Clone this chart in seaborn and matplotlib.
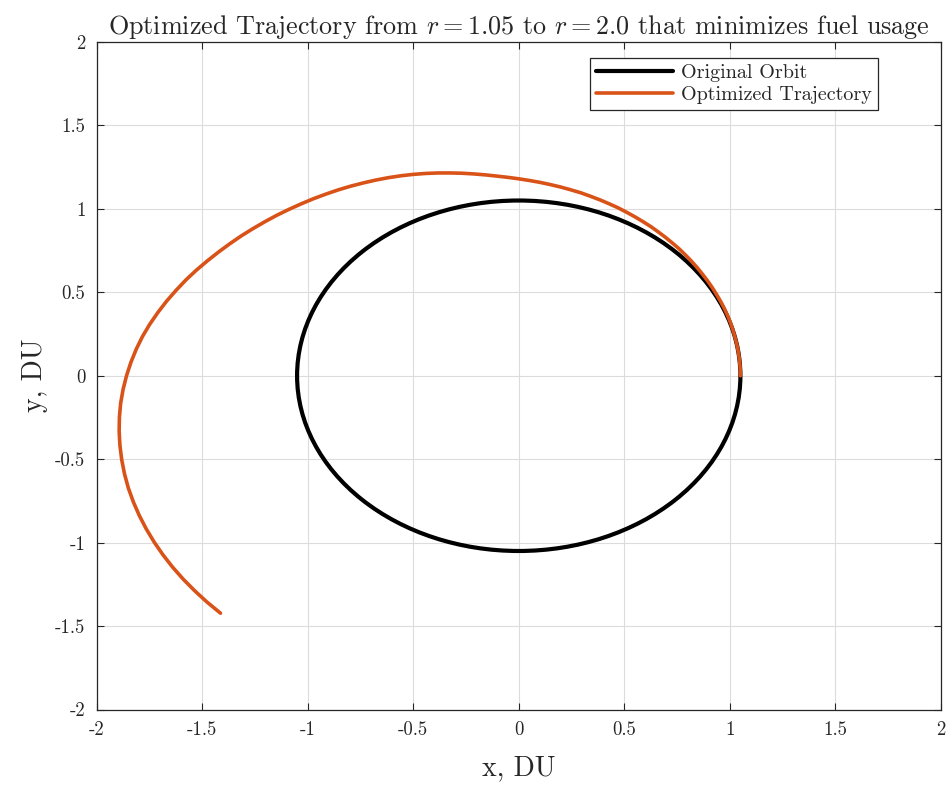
import numpy as np
import pandas as pd
import seaborn as sns
import matplotlib.pyplot as plt
from matplotlib.patches import Circle
from matplotlib.lines import Line2D

# original circular orbit (DU)
orbit_radius = 1.05

traj_angle_deg = [0, 2.5, 5, 7.5, 10, 12.5, 15, 17.5, 20, 22.5, 25, 27.5, 30,
                  32.5, 35, 37.5, 40, 42.5, 45, 47.5, 50, 52.5, 55, 57.5, 60,
                  62.5, 65, 67.5, 70, 72.5, 75, 77.5, 80, 82.5, 85, 87.5, 90,
                  92.5, 95, 97.5, 100, 102.5, 105, 107.5, 110, 112.5, 115,
                  117.5, 120, 122.5, 125, 127.5, 130, 132.5, 135, 137.5, 140,
                  142.5, 145, 147.5, 150, 152.5, 155, 157.5, 160, 162.5, 165,
                  167.5, 170, 172.5, 175, 177.5, 180, 182.5, 185, 187.5, 190,
                  192.5, 195, 197.5, 200, 202.5, 205, 207.5, 210, 212.5, 215,
                  217.5, 220, 222.5, 225.2]
traj_radius = [1.050, 1.050, 1.050, 1.050, 1.050, 1.050, 1.051, 1.052, 1.053,
               1.054, 1.055, 1.056, 1.058, 1.060, 1.062, 1.065, 1.068, 1.071,
               1.075, 1.078, 1.082, 1.086, 1.091, 1.095, 1.100, 1.105, 1.111,
               1.116, 1.122, 1.128, 1.135, 1.141, 1.148, 1.155, 1.163, 1.171,
               1.180, 1.190, 1.201, 1.214, 1.228, 1.243, 1.258, 1.274, 1.290,
               1.306, 1.322, 1.338, 1.354, 1.370, 1.387, 1.404, 1.421, 1.439,
               1.457, 1.476, 1.496, 1.516, 1.537, 1.559, 1.581, 1.604, 1.628,
               1.653, 1.678, 1.702, 1.727, 1.751, 1.775, 1.798, 1.819, 1.839,
               1.858, 1.876, 1.893, 1.908, 1.922, 1.935, 1.947, 1.958, 1.968,
               1.976, 1.983, 1.989, 1.994, 1.998, 2.001, 2.003, 2.004, 2.005,
               2.005]

ticks = [-2, -1.5, -1, -0.5, 0, 0.5, 1, 1.5, 2]
tick_labels = ['-2', '-1.5', '-1', '-0.5', '0', '0.5', '1', '1.5', '2']

orange = '#D95319'
ink = '#262626'

sns.set_style('ticks')
plt.rcParams['font.family'] = ['cmr10', 'DejaVu Serif']
plt.rcParams['mathtext.fontset'] = 'cm'
plt.rcParams['axes.unicode_minus'] = False
plt.rcParams['axes.formatter.use_mathtext'] = True

theta = np.deg2rad(traj_angle_deg)
traj = pd.DataFrame({'x': np.array(traj_radius) * np.cos(theta),
                     'y': np.array(traj_radius) * np.sin(theta)})

fig = plt.figure(figsize=(9.52, 7.86), dpi=100)
ax = fig.add_axes([0.1014, 0.0973, 0.8870, 0.8493])

ax.add_patch(Circle((0, 0), orbit_radius, fill=False, edgecolor='black',
                    linewidth=3.0, zorder=3))
sns.lineplot(data=traj, x='x', y='y', sort=False, estimator=None,
             color=orange, linewidth=2.6, ax=ax, zorder=4)

ax.set_xlim(-2, 2)
ax.set_ylim(-2, 2)
ax.set_xticks(ticks)
ax.set_xticklabels(tick_labels)
ax.set_yticks(ticks)
ax.set_yticklabels(tick_labels)
ax.tick_params(direction='in', length=5, width=0.8, colors=ink,
               labelsize=13.5, top=True, right=True, pad=8)
ax.grid(True, color='#dcdcdc', linewidth=0.8)
for sp in ax.spines.values():
    sp.set_color(ink)
    sp.set_linewidth(0.9)

ax.set_xlabel('x, DU', fontsize=20, color=ink, labelpad=12)
ax.set_ylabel('y, DU', fontsize=20, color=ink, labelpad=5)
ax.set_title(r'Optimized Trajectory from $r = 1.05$ to $r = 2.0$ that minimizes fuel usage',
             fontsize=18.8, color=ink, pad=6)

handles = [Line2D([], [], color='black', linewidth=3.0),
           Line2D([], [], color=orange, linewidth=2.6)]
leg = ax.legend(handles, ['Original Orbit', 'Optimized Trajectory'],
                loc='upper right', bbox_to_anchor=(0.9254, 0.976),
                borderaxespad=0, fontsize=14.5, handlelength=3.8,
                fancybox=False, framealpha=1, edgecolor=ink,
                borderpad=0.3, labelspacing=0.2, handletextpad=0.4)
leg.get_frame().set_linewidth(0.9)

fig.savefig('out.png', dpi=100)
